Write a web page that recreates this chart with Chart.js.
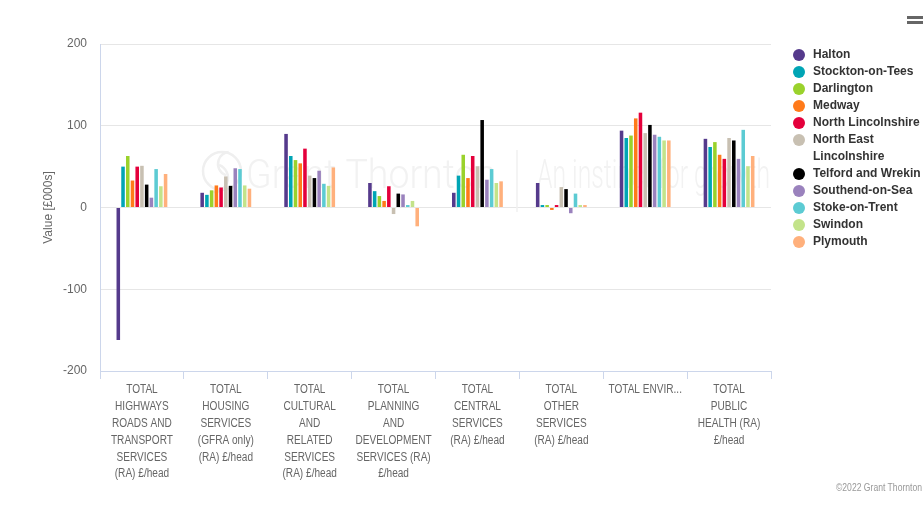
<!DOCTYPE html>
<html>
<head>
<meta charset="utf-8">
<script src="https://cdn.jsdelivr.net/npm/chart.js@4.4.1/dist/chart.umd.min.js"></script>
<style>
  body { margin: 0; background: #fff; }
  #wrap { position: relative; width: 924px; height: 516px; }
  #legend {
    position: absolute; left: 792px; top: 46px; width: 132px;
    font: bold 12px "Liberation Sans", Arial, sans-serif; color: #333;
  }
  .item { display: flex; align-items: flex-start; line-height: 17px; }
  .dot { width: 12px; height: 12px; border-radius: 50%; margin: 2.5px 8px 0 1px; flex: none; }
  .txt { width: 108px; }
  #menu { position: absolute; left: 907px; top: 16px; width: 16px; }
  #menu div { height: 2.5px; background: #666; margin-bottom: 2.5px; }
  #credit {
    position: absolute; right: 2px; top: 482px; transform: scaleX(0.86); transform-origin: right;
    font: 10px "Liberation Sans", Arial, sans-serif; color: #999;
  }
</style>
</head>
<body>
<div id="wrap">
  <canvas id="chart"></canvas>
  <div id="legend"></div>
  <div id="menu"><div></div><div></div></div>
  <div id="credit">©2022 Grant Thornton</div>
</div>
<script>
const categories = [
  ["TOTAL", "HIGHWAYS", "ROADS AND", "TRANSPORT", "SERVICES", "(RA) £/head"],
  ["TOTAL", "HOUSING", "SERVICES", "(GFRA only)", "(RA) £/head"],
  ["TOTAL", "CULTURAL", "AND", "RELATED", "SERVICES", "(RA) £/head"],
  ["TOTAL", "PLANNING", "AND", "DEVELOPMENT", "SERVICES (RA)", "£/head"],
  ["TOTAL", "CENTRAL", "SERVICES", "(RA) £/head"],
  ["TOTAL", "OTHER", "SERVICES", "(RA) £/head"],
  ["TOTAL ENVIR..."],
  ["TOTAL", "PUBLIC", "HEALTH (RA)", "£/head"]
];

const seriesNames = [
  "Halton", "Stockton-on-Tees", "Darlington", "Medway", "North Lincolnshire",
  "North East Lincolnshire", "Telford and Wrekin", "Southend-on-Sea",
  "Stoke-on-Trent", "Swindon", "Plymouth"
];
const seriesColors = [
  "#553a8c", "#00a5b5", "#9ad22c", "#ff7a1a", "#e4003b",
  "#c8c0b2", "#000000", "#9a82bd", "#5ccbd3", "#c3e38a", "#ffb07c"
];

const halton      = [-162, 18, 90, 30, 18, 30, 94, 84];
const stockton    = [50, 15.5, 63, 20, 39, 3, 85, 74];
const darlington  = [63, 21, 58, 14, 64.5, 3, 88, 80];
const medway      = [33, 27, 54, 8, 36, -3, 109, 64.5];
const northLincs  = [50, 24.5, 72, 26, 63, 3, 116, 59.5];
const neLincs     = [51, 38, 39, -8, 50.5, 25, 91, 85];
const telford     = [28, 26.5, 36, 17, 107, 22.5, 101, 82];
const southend    = [12, 48, 45, 16, 34, -7, 89, 59.5];
const stoke       = [47, 47, 29, 3, 47, 17, 86.5, 95];
const swindon     = [26, 27, 26.5, 8, 30, 3, 82, 50.5];
const plymouth    = [41, 23, 49, -23, 32, 3, 82, 63];

const seriesValues = [halton, stockton, darlington, medway, northLincs, neLincs,
  telford, southend, stoke, swindon, plymouth];

const yTicks = [-200, -100, 0, 100, 200];

const sans = "'Liberation Sans', Arial, sans-serif";

// faint Grant Thornton watermark behind the bars
const watermark = {
  id: "watermark",
  beforeDatasetsDraw(chart) {
    const ctx = chart.ctx;
    ctx.save();
    ctx.strokeStyle = "#efefef";
    ctx.lineWidth = 2.5;
    ctx.beginPath();
    ctx.arc(222, 171, 19, 0, Math.PI * 2);
    ctx.stroke();
    ctx.beginPath();
    ctx.arc(214, 178, 14, -1.2, 1.6);
    ctx.stroke();
    ctx.beginPath();
    ctx.arc(230, 164, 12, 1.9, 4.6);
    ctx.stroke();

    ctx.fillStyle = "#f2f2f2";
    ctx.font = "300 40px Roboto, sans-serif";
    ctx.textBaseline = "alphabetic";
    const drawFit = (text, x, y, w) => {
      const m = ctx.measureText(text).width;
      ctx.save();
      ctx.translate(x, y);
      ctx.scale(w / m, 1);
      ctx.fillText(text, 0, 0);
      ctx.restore();
    };
    drawFit("Grant Thornton", 246, 188, 250);
    drawFit("An instinct for growth", 537, 188, 233);

    ctx.strokeStyle = "#f0f0f0";
    ctx.lineWidth = 1.5;
    ctx.beginPath();
    ctx.moveTo(517, 150);
    ctx.lineTo(517, 212);
    ctx.stroke();
    ctx.restore();
  }
};

// condensed category labels, placed at the x scale's own tick positions
const condensedLabels = {
  id: "condensedLabels",
  afterDraw(chart) {
    const ctx = chart.ctx;
    const xs = chart.scales.x;
    ctx.save();
    ctx.font = "12px " + sans;
    ctx.fillStyle = "#666";
    ctx.textAlign = "center";
    ctx.textBaseline = "middle";
    categories.forEach((lines, i) => {
      const x = xs.getPixelForTick(i);
      lines.forEach((line, j) => {
        ctx.save();
        ctx.translate(x, xs.top + 19 + j * 16.8);
        ctx.scale(0.84, 1);
        ctx.fillText(line, 0, 0);
        ctx.restore();
      });
    });
    ctx.restore();
  }
};

const ctx = document.getElementById("chart").getContext("2d");
new Chart(ctx, {
  type: "bar",
  data: {
    labels: categories,
    datasets: seriesNames.map((name, i) => ({
      label: name,
      data: seriesValues[i],
      backgroundColor: seriesColors[i],
      borderWidth: 0,
      categoryPercentage: 0.62,
      barPercentage: 0.75
    }))
  },
  options: {
    responsive: true,
    maintainAspectRatio: false,
    animation: false,
    layout: { padding: { top: 44, right: 153, bottom: 0, left: 0 } },
    plugins: { legend: { display: false }, tooltip: { enabled: false } },
    scales: {
      x: {
        offset: true,
        grid: { offset: true, drawOnChartArea: false, drawTicks: true, tickLength: 8, color: "#ccd6eb" },
        border: { color: "#ccd6eb" },
        ticks: { display: false, autoSkip: false, maxRotation: 0 },
        afterFit: scale => { scale.height = 145; }
      },
      y: {
        min: -200, max: 200,
        afterBuildTicks: scale => { scale.ticks = yTicks.map(v => ({ value: v })); },
        grid: { color: "#e6e6e6", drawTicks: false },
        border: { color: "#ccd6eb" },
        ticks: { padding: 13, color: "#666", font: { size: 12, family: sans } },
        title: {
          display: true, text: "Value [£000s]", color: "#666",
          font: { size: 12, family: sans },
          padding: { top: 41 }
        },
        afterFit: scale => { scale.width = 100; }
      }
    }
  },
  plugins: [watermark, condensedLabels]
});

// legend built from the same series arrays
const legend = document.getElementById("legend");
seriesNames.forEach((name, i) => {
  const row = document.createElement("div");
  row.className = "item";
  row.innerHTML = '<span class="dot" style="background:' + seriesColors[i] + '"></span><span class="txt">' + name + "</span>";
  legend.appendChild(row);
});
</script>
</body>
</html>
